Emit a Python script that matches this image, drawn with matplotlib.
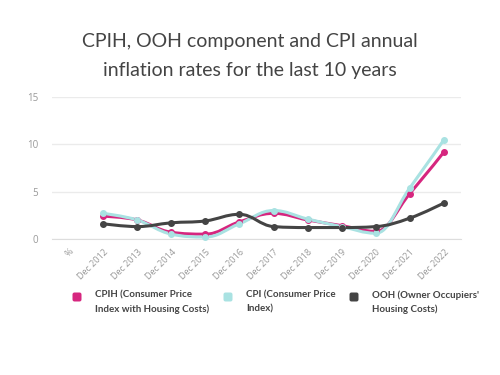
import matplotlib
matplotlib.use("Agg")
import matplotlib.pyplot as plt
from matplotlib.path import Path
from matplotlib.patches import PathPatch, FancyBboxPatch

categories = ["%", "Dec 2012", "Dec 2013", "Dec 2014", "Dec 2015", "Dec 2016",
              "Dec 2017", "Dec 2018", "Dec 2019", "Dec 2020", "Dec 2021", "Dec 2022"]
cpih = [None, 2.4, 2.0, 0.7, 0.5, 1.8, 2.7, 2.0, 1.4, 0.8, 4.8, 9.2]
cpi = [None, 2.7, 2.0, 0.5, 0.2, 1.6, 3.0, 2.1, 1.3, 0.6, 5.4, 10.5]
ooh = [None, 1.6, 1.3, 1.7, 1.9, 2.6, 1.3, 1.2, 1.2, 1.3, 2.2, 3.8]
yticks = [0, 5, 10, 15]

series = [
    ("CPIH (Consumer Price\nIndex with Housing Costs)", cpih, "#d6267f"),
    ("CPI (Consumer Price\nIndex)", cpi, "#a9e2e2"),
    ("OOH (Owner Occupiers'\nHousing Costs)", ooh, "#444444"),
]


def spline_path(xs, ys, smoothing=1.5):
    # highcharts-like spline
    denom = smoothing + 1
    verts = [(xs[0], ys[0])]
    codes = [Path.MOVETO]
    right_prev = (xs[0], ys[0])
    n = len(xs)
    for i in range(1, n):
        x, y = xs[i], ys[i]
        lx, ly = xs[i - 1], ys[i - 1]
        if i < n - 1:
            nx, ny = xs[i + 1], ys[i + 1]
            lcx = (smoothing * x + lx) / denom
            lcy = (smoothing * y + ly) / denom
            rcx = (smoothing * x + nx) / denom
            rcy = (smoothing * y + ny) / denom
            corr = ((rcy - lcy) * (rcx - x)) / (rcx - lcx) + y - rcy
            lcy += corr
            rcy += corr
            if lcy > ly and lcy > y:
                lcy = max(ly, y)
                rcy = 2 * y - lcy
            elif lcy < ly and lcy < y:
                lcy = min(ly, y)
                rcy = 2 * y - lcy
            if rcy > ny and rcy > y:
                rcy = max(ny, y)
                lcy = 2 * y - rcy
            elif rcy < ny and rcy < y:
                rcy = min(ny, y)
                lcy = 2 * y - rcy
        else:
            lcx, lcy = x, y
            rcx, rcy = x, y
        verts += [right_prev, (lcx, lcy), (x, y)]
        codes += [Path.CURVE4] * 3
        right_prev = (rcx, rcy)
    return Path(verts, codes)


fig = plt.figure(figsize=(5, 3.75), dpi=100)
ax = fig.add_axes([0.104, 0.363, 0.818, 0.378])

for label, vals, color in series:
    xs = [i for i, v in enumerate(vals) if v is not None]
    ys = [v for v in vals if v is not None]
    ax.add_patch(PathPatch(spline_path(xs, ys), facecolor="none", edgecolor=color,
                           lw=2.2, clip_on=False, zorder=3))
    ax.plot(xs, ys, "o", color=color, ms=4, clip_on=False, zorder=4)

ax.set_xlim(-0.5, 11.5)
ax.set_ylim(0, 15)
ax.set_yticks(yticks)
ax.set_xticks(range(len(categories)))
ax.set_xticklabels(categories, rotation=45, ha="right", rotation_mode="anchor",
                   fontsize=6.5, color="#999999", family="Open Sans")
ax.tick_params(axis="y", labelsize=7, colors="#999999", length=0, pad=10)
ax.tick_params(axis="x", length=0, pad=6)
for t in ax.get_yticklabels():
    t.set_family("Open Sans")
ax.grid(axis="y", color="#ebebeb", lw=1)
ax.set_axisbelow(True)
for s in ["top", "right", "left"]:
    ax.spines[s].set_visible(False)
ax.spines["bottom"].set_color("#dddddd")

fig.text(0.5, 1 - 56 / 375, "CPIH, OOH component and CPI annual\ninflation rates for the last 10 years",
         ha="center", va="center", fontsize=14, color="#444444", family="Lato",
         weight="normal", linespacing=1.9)

# legend
lx = [77, 228, 354]
for (label, vals, color), x in zip(series, lx):
    fig.patches.append(FancyBboxPatch((x - 4.5, 375 - 301.5), 9, 9,
                                      boxstyle="round,pad=0,rounding_size=2",
                                      transform=None, facecolor=color, edgecolor="none"))
    fig.text((x + 18) / 500, 1 - 302 / 375, label, ha="left", va="center",
             fontsize=7, color="#444444", family="Lato", weight="bold", linespacing=1.6)

fig.savefig("out.png", dpi=100, facecolor="white")
